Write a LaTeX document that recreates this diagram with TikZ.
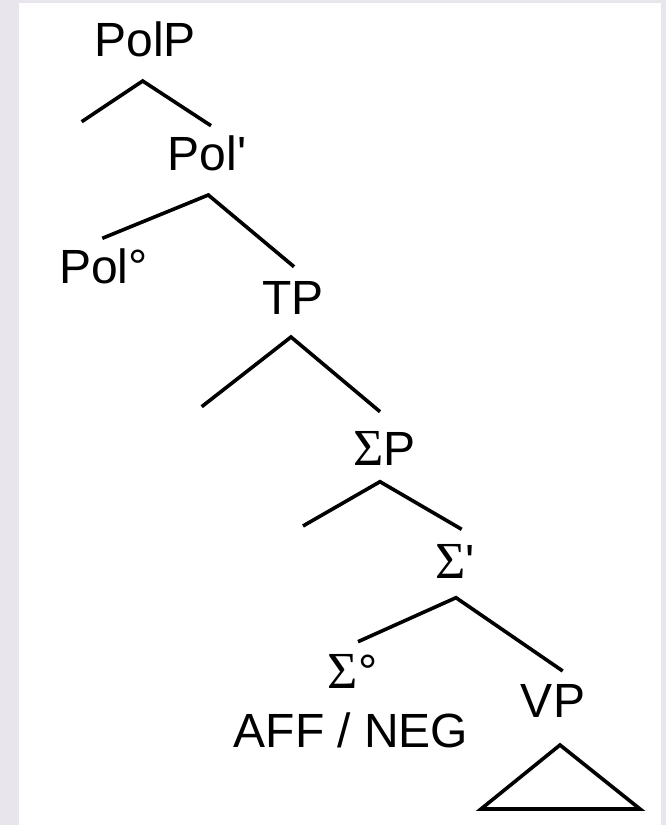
\documentclass[tikz,border=0pt]{standalone}
\usepackage{fontspec}
\setmainfont{Liberation Sans}
\newfontfamily\sigfont{Liberation Serif}
\newcommand{\Sig}{{\sigfont\fontsize{52}{52}\selectfont Σ}}
\definecolor{frame}{RGB}{233,229,236}
\begin{document}
\begin{tikzpicture}[x=1pt,y=-1pt,
  lbl/.style={anchor=base,inner sep=0pt,font=\fontsize{48}{48}\selectfont},
  branch/.style={line width=3.6pt,line join=miter}]
% page and frame
\useasboundingbox (0,0) rectangle (666,825);
\fill[frame] (0,0) rectangle (666,825);
\fill[white] (19,3) rectangle (661,825);

% labels
\node[lbl] (polp) at (145,56) {PolP};
\node[lbl] (polbar) at (207,170) {Pol\textquotesingle};
\node[lbl] (polhead) at (103.5,283) {Pol°};
\node[lbl] (tp) at (293,314) {TP};
\node[lbl] (sigp) at (384.5,465) {\Sig P};
\node[lbl] (sigbar) at (455,578) {\Sig\textquotesingle};
\node[lbl] (sighead) at (352.5,688) {\Sig°};
\node[lbl] (affneg) at (351,747) {AFF / NEG};
\node[lbl] (vp) at (553,717) {VP};

% branch points
\coordinate (polp-t) at (142.7,81);
\coordinate (polp-l) at (81.7,121.7);
\coordinate (polp-r) at (211,125.7);
\coordinate (polbar-t) at (208.3,195);
\coordinate (polbar-l) at (102.3,238.3);
\coordinate (polbar-r) at (294,266.7);
\coordinate (tp-t) at (291,337);
\coordinate (tp-l) at (201.7,406.7);
\coordinate (tp-r) at (380,411.7);
\coordinate (sigp-t) at (380,481.7);
\coordinate (sigp-l) at (303,526);
\coordinate (sigp-r) at (461.7,529.3);
\coordinate (sigbar-t) at (456,597.7);
\coordinate (sigbar-l) at (358,641.7);
\coordinate (sigbar-r) at (562.7,671);
\coordinate (vp-t) at (560,745);
\coordinate (vp-l) at (481,809);
\coordinate (vp-r) at (640,809);

% branches
\draw[branch] (polp-l) -- (polp-t) -- (polp-r);
\draw[branch] (polbar-l) -- (polbar-t) -- (polbar-r);
\draw[branch] (tp-l) -- (tp-t) -- (tp-r);
\draw[branch] (sigp-l) -- (sigp-t) -- (sigp-r);
\draw[branch] (sigbar-l) -- (sigbar-t) -- (sigbar-r);
\draw[branch] (vp-t) -- (vp-l) -- (vp-r) -- cycle;
\end{tikzpicture}
\end{document}
